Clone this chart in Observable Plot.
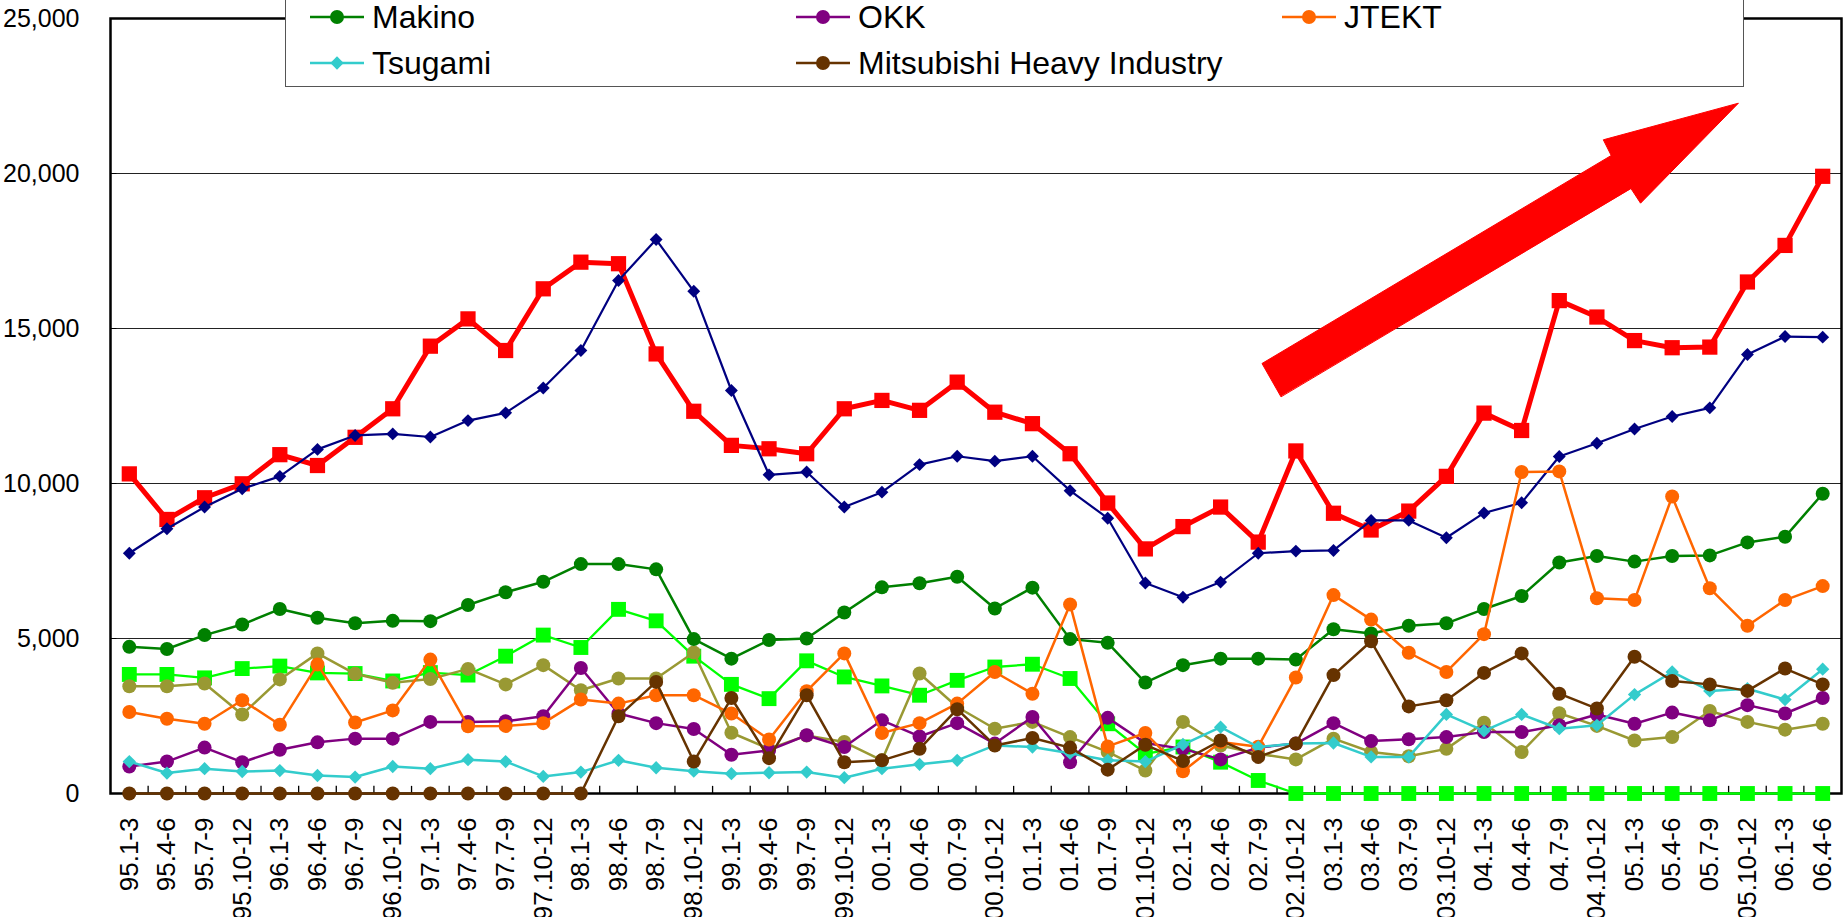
<!DOCTYPE html>
<html><head><meta charset="utf-8">
<script src="https://cdn.jsdelivr.net/npm/d3@7"></script>
<script src="https://cdn.jsdelivr.net/npm/@observablehq/plot@0.6"></script>
<style>
html,body{margin:0;padding:0;background:#fff;overflow:hidden;}
#wrap{position:relative;width:1848px;height:917px;}
#chart{position:absolute;left:0;top:0;}
#legend{position:absolute;left:285px;top:-60px;width:1459px;height:147px;border:1.5px solid #555;background:#fff;box-sizing:border-box;font-family:"Liberation Sans",Arial,sans-serif;font-size:32px;color:#000;}
.item{position:absolute;display:flex;align-items:center;height:40px;white-space:nowrap;}
.item svg{margin-right:8px;}
</style></head><body><div id="wrap"><div id="chart"></div><div id="legend"></div></div>
<script>
const quarters = ["95.1-3","95.4-6","95.7-9","95.10-12","96.1-3","96.4-6","96.7-9","96.10-12",
"97.1-3","97.4-6","97.7-9","97.10-12","98.1-3","98.4-6","98.7-9","98.10-12",
"99.1-3","99.4-6","99.7-9","99.10-12","00.1-3","00.4-6","00.7-9","00.10-12",
"01.1-3","01.4-6","01.7-9","01.10-12","02.1-3","02.4-6","02.7-9","02.10-12",
"03.1-3","03.4-6","03.7-9","03.10-12","04.1-3","04.4-6","04.7-9","04.10-12",
"05.1-3","05.4-6","05.7-9","05.10-12","06.1-3","06.4-6"];
const yTicks = [0, 5000, 10000, 15000, 20000, 25000];

// Series whose legend entries are outside the visible area
const redSeries = [10310, 8840, 9540, 9990, 10930, 10580, 11490, 12410, 14430, 15310, 14290, 16280, 17140, 17090, 14180, 12330, 11230, 11120, 10960, 12410, 12680, 12360, 13270, 12300, 11930, 10960, 9370, 7890, 8610, 9240, 8110, 11050, 9040, 8500, 9110, 10230, 12270, 11710, 15900, 15370, 14610, 14380, 14400, 16500, 17680, 19910];
const navySeries = [7750, 8540, 9240, 9830, 10230, 11100, 11550, 11600, 11500, 12030, 12280, 13080, 14290, 16550, 17870, 16200, 13000, 10280, 10370, 9240, 9720, 10610, 10880, 10720, 10880, 9770, 8880, 6790, 6330, 6820, 7750, 7820, 7840, 8810, 8810, 8250, 9050, 9380, 10870, 11300, 11760, 12160, 12440, 14160, 14740, 14720];
const limeSeries = [3840, 3840, 3730, 4030, 4110, 3890, 3870, 3630, 3900, 3820, 4430, 5110, 4710, 5940, 5570, 4430, 3520, 3060, 4280, 3760, 3470, 3170, 3650, 4080, 4170, 3710, 2250, 1280, 1500, 1010, 420, 0, 0, 0, 0, 0, 0, 0, 0, 0, 0, 0, 0, 0, 0, 0];
const oliveSeries = [3460, 3460, 3550, 2550, 3680, 4520, 3860, 3570, 3690, 4020, 3520, 4140, 3330, 3710, 3710, 4550, 1960, 1440, 1870, 1660, 1070, 3870, 2790, 2090, 2310, 1820, 1340, 740, 2310, 1550, 1280, 1100, 1770, 1340, 1200, 1440, 2280, 1340, 2590, 2180, 1710, 1820, 2660, 2310, 2060, 2250];
// Visible legend series
const makino = [4730, 4660, 5110, 5450, 5950, 5670, 5490, 5570, 5560, 6080, 6490, 6830, 7400, 7400, 7230, 4980, 4350, 4950, 5000, 5840, 6650, 6780, 6990, 5970, 6640, 4980, 4860, 3580, 4140, 4350, 4350, 4320, 5300, 5160, 5410, 5490, 5950, 6370, 7450, 7660, 7480, 7660, 7680, 8100, 8280, 9670];
const okk = [870, 1030, 1480, 1010, 1410, 1650, 1770, 1770, 2310, 2310, 2330, 2490, 4050, 2580, 2270, 2080, 1250, 1390, 1880, 1500, 2360, 1840, 2270, 1610, 2470, 1010, 2440, 1630, 1440, 1100, 1480, 1610, 2270, 1690, 1750, 1820, 1980, 1980, 2200, 2550, 2250, 2610, 2360, 2850, 2580, 3080];
const jtekt = [2630, 2410, 2250, 3010, 2220, 4160, 2290, 2680, 4320, 2170, 2180, 2270, 3030, 2900, 3170, 3170, 2580, 1740, 3300, 4520, 1950, 2270, 2900, 3920, 3220, 6100, 1520, 1950, 720, 1660, 1510, 3740, 6400, 5610, 4540, 3920, 5140, 10370, 10390, 6300, 6240, 9580, 6620, 5410, 6240, 6690];
const tsugami = [1030, 660, 800, 710, 740, 580, 530, 870, 800, 1090, 1030, 550, 690, 1070, 830, 720, 640, 670, 690, 510, 800, 940, 1070, 1550, 1500, 1300, 1070, 1030, 1580, 2140, 1500, 1610, 1630, 1180, 1180, 2550, 2020, 2550, 2090, 2200, 3190, 3920, 3310, 3380, 3030, 4010];
const mhi = [0, 0, 0, 0, 0, 0, 0, 0, 0, 0, 0, 0, 0, 2490, 3600, 1030, 3080, 1140, 3170, 1010, 1070, 1440, 2720, 1550, 1790, 1480, 770, 1570, 1050, 1710, 1180, 1610, 3820, 4910, 2810, 3010, 3890, 4520, 3220, 2740, 4410, 3630, 3520, 3310, 4030, 3520];

// Trend arrow outline in (quarter index, value) coordinates
const arrowX = [30.60, 30.10, 39.38, 39.17, 42.76, 40.16, 39.91];
const arrowY = [12806, 13871, 20581, 21087, 22268, 19042, 19506];

const series = [
  {name: null, values: redSeries, color: "#ff0000", sw: 5, symbol: "square", r: 8.6},
  {name: null, values: navySeries, color: "#000080", sw: 2.2, symbol: "diamond2", r: 5.8},
  {name: null, values: limeSeries, color: "#00ff00", sw: 2.3, symbol: "square", r: 8.4},
  {name: null, values: oliveSeries, color: "#999933", sw: 2.5, symbol: "circle", r: 7},
  {name: "Makino", values: makino, color: "#008000", sw: 2.5, symbol: "circle", r: 7},
  {name: "OKK", values: okk, color: "#800080", sw: 2.5, symbol: "circle", r: 7},
  {name: "JTEKT", values: jtekt, color: "#ff6600", sw: 2.5, symbol: "circle", r: 7},
  {name: "Tsugami", values: tsugami, color: "#33cccc", sw: 2.5, symbol: "diamond2", r: 6},
  {name: "Mitsubishi Heavy Industry", values: mhi, color: "#663300", sw: 2.5, symbol: "circle", r: 7}
];

const idx = d3.range(quarters.length);
const boundaries = d3.range(quarters.length - 1).map(i => i + 0.5);
const arrow = arrowX.map((x, k) => ({x, y: arrowY[k]}));

const marks = [
  Plot.gridY(yTicks.slice(1, -1), {stroke: "#222", strokeOpacity: 1, strokeWidth: 1}),
  Plot.ruleX(boundaries, {y1: 0, y2: 230, stroke: "#000", strokeWidth: 1.3}),
  Plot.ruleY(yTicks, {x1: -0.5, x2: -0.33, stroke: "#000", strokeWidth: 1}),
  Plot.frame({stroke: "#000", strokeWidth: 2.5}),
  Plot.line(arrow, {x: "x", y: "y", fill: "#ff0000", stroke: "#ff0000", strokeWidth: 1, curve: "linear-closed"})
];
for (const s of series) {
  const data = s.values.map((v, i) => ({i, v}));
  marks.push(Plot.line(data, {x: "i", y: "v", stroke: s.color, strokeWidth: s.sw, strokeLinejoin: "miter"}));
  marks.push(Plot.dot(data, {x: "i", y: "v", symbol: s.symbol, r: s.r, fill: s.color, stroke: "none"}));
}
marks.push(Plot.axisY({ticks: yTicks, tickFormat: d3.format(","), tickSize: 0, tickPadding: 31, fontSize: 25, fill: "#000"}));
marks.push(Plot.axisX({ticks: idx, tickFormat: i => quarters[i], tickRotate: -90, tickSize: 0, tickPadding: 24, fontSize: 26, fill: "#000"}));

const chart = Plot.plot({
  width: 1848, height: 917,
  marginLeft: 110, marginRight: 7, marginTop: 18, marginBottom: 124,
  x: {domain: [-0.5, quarters.length - 0.5], axis: null},
  y: {domain: [0, 25000], axis: null},
  style: {fontFamily: "'Liberation Sans', Arial, sans-serif", background: "#fff", color: "#000", overflow: "visible"},
  marks
});
document.getElementById("chart").appendChild(chart);

// Legend (visible rows)
const legend = document.getElementById("legend");
const shown = series.filter(s => s.name);
shown.forEach((s, k) => {
  const col = k % 3, row = Math.floor(k / 3);
  const div = document.createElement("div");
  div.className = "item";
  div.style.left = (24 + col * 486) + "px";
  div.style.top = (56 + row * 46) + "px";
  const sw = d3.create("svg").attr("width", 54).attr("height", 20);
  sw.append("line").attr("x1", 0).attr("x2", 54).attr("y1", 10).attr("y2", 10).attr("stroke", s.color).attr("stroke-width", s.sw);
  const sym = s.symbol === "circle" ? d3.symbolCircle : s.symbol === "square" ? d3.symbolSquare : d3.symbolDiamond2;
  sw.append("path").attr("transform", "translate(27,10)").attr("d", d3.symbol(sym, s.r * s.r * Math.PI)()).attr("fill", s.color);
  div.appendChild(sw.node());
  const t = document.createElement("span");
  t.textContent = s.name;
  div.appendChild(t);
  legend.appendChild(div);
});
</script>
</body></html>
